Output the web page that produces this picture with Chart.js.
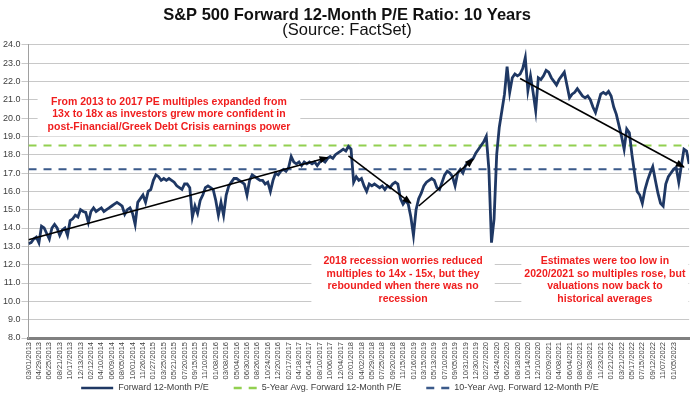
<!DOCTYPE html>
<html>
<head>
<meta charset="utf-8">
<script src="https://cdn.jsdelivr.net/npm/chart.js@4.4.0/dist/chart.umd.min.js"></script>
<style>
  html, body { margin: 0; padding: 0; background: #fff; }
</style>
</head>
<body>
<canvas id="chart" width="697" height="396"></canvas>
<script>
// x axis tick labels, one every 4 points (points are roughly 2 trading weeks apart)
var dateLabels = [
  '03/01/2013','04/29/2013','06/25/2013','08/21/2013','10/17/2013','12/13/2013',
  '02/12/2014','04/10/2014','06/09/2014','08/05/2014','10/01/2014','11/26/2014',
  '01/27/2015','03/25/2015','05/21/2015','07/20/2015','09/15/2015','11/10/2015',
  '01/08/2016','03/08/2016','05/04/2016','06/30/2016','08/26/2016','10/24/2016','12/20/2016',
  '02/17/2017','04/18/2017','06/14/2017','08/10/2017','10/06/2017','12/04/2017',
  '02/01/2018','04/02/2018','05/29/2018','07/25/2018','09/20/2018','11/15/2018',
  '01/16/2019','03/15/2019','05/13/2019','07/10/2019','09/05/2019','10/31/2019','12/30/2019',
  '02/27/2020','04/24/2020','06/22/2020','08/18/2020','10/14/2020','12/10/2020',
  '02/09/2021','04/08/2021','06/04/2021','08/02/2021','09/28/2021','11/23/2021',
  '01/21/2022','03/21/2022','05/17/2022','07/15/2022','09/12/2022','11/07/2022','01/05/2023'
];

// forward 12-month P/E
var forwardPE = [
  13.15,13.2,13.4,13.5, 13.2,14.1,14.0,13.7, 13.4,14.0,14.2,14.0, 13.6,13.9,14.0,13.6,
  14.4,14.5,14.7,14.6, 15.0,14.9,14.85,14.3, 14.9,15.1,14.9,15.0, 15.1,14.9,15.0,15.1,
  15.2,15.3,15.4,15.3, 15.2,14.75,15.0,15.1, 14.8,14.2,15.4,15.6, 15.8,15.4,16.0,16.1,
  16.6,16.9,16.8,16.6, 16.7,16.6,16.7,16.6, 16.5,16.3,16.2,16.1, 16.4,16.4,16.2,14.6,
  15.2,14.8,15.5,15.8, 16.2,16.3,16.2,16.1, 15.5,14.7,15.4,14.7, 15.8,16.3,16.5,16.7,
  16.7,16.6,16.5,16.4, 15.8,16.6,16.9,16.8, 16.7,16.6,16.6,16.4, 16.5,16.0,16.6,17.0,
  16.9,17.1,17.2,17.1, 17.3,17.9,17.6,17.5, 17.6,17.4,17.6,17.5, 17.6,17.5,17.6,17.4,
  17.6,17.7,17.6,17.8, 17.9,17.8,18.0,18.1, 18.2,18.3,18.2,18.45, 18.3,16.5,16.8,16.6,
  16.7,16.3,16.0,16.4, 16.3,16.4,16.3,16.2, 16.3,16.1,16.3,16.2, 16.4,16.5,16.4,15.6,
  15.3,15.5,15.3,14.6, 13.6,15.0,15.6,15.9, 16.3,16.5,16.6,16.7, 16.6,16.2,16.1,16.5,
  16.9,17.1,17.0,16.8, 16.3,17.0,17.2,17.0, 17.4,17.6,17.7,17.8, 18.1,18.3,18.5,18.7,
  19.0,17.2,13.2,14.5, 18.0,19.5,20.4,21.3, 22.8,21.4,22.2,22.4, 22.3,22.4,22.7,23.3,
  21.5,22.3,21.4,20.4, 22.2,22.1,22.3,22.6, 22.5,22.2,22.0,21.8, 22.1,22.3,22.5,21.8,
  21.1,21.3,21.4,21.6, 21.4,21.2,21.1,21.2, 21.0,20.6,20.3,20.8, 21.3,21.4,21.3,21.45,
  21.2,20.6,20.2,19.6, 19.0,18.3,19.4,19.2, 18.0,17.0,16.0,15.8, 15.35,16.1,16.6,17.0,
  17.35,16.6,15.9,15.35, 15.2,16.4,16.8,17.0, 17.2,17.3,16.5,17.4, 18.3,18.2,17.5
];

var avg5Year = 18.5;
var avg10Year = 17.2;

// trend arrows: [start point, start value, end point, end value]
var trendArrows = [
  [0, 13.36, 115, 17.85],
  [123, 17.93, 147, 15.36],
  [150, 15.2, 171, 17.75],
  [189, 22.16, 252, 17.33]
];

var noteLines = [
  ['From 2013 to 2017 PE multiples expanded from',
   '13x to 18x as investors grew more confident in',
   'post-Financial/Greek Debt Crisis earnings power'],
  ['2018 recession worries reduced',
   'multiples to 14x - 15x, but they',
   'rebounded when there was no',
   'recession'],
  ['Estimates were too low in',
   '2020/2021 so multiples rose, but',
   'valuations now back to',
   'historical averages']
];

var lastIndex = forwardPE.length - 1;

var datasets = [
  {
    label: 'Forward 12-Month P/E',
    data: forwardPE.map(function(v, i) { return {x: i, y: v}; }),
    borderColor: '#1f3864',
    borderWidth: 2.8,
    pointRadius: 0,
    order: 0
  },
  {
    label: '5-Year Avg. Forward 12-Month P/E',
    data: [{x: 0, y: avg5Year}, {x: lastIndex, y: avg5Year}],
    borderColor: '#92d050',
    borderWidth: 2,
    borderDash: [8, 7],
    pointRadius: 0,
    order: 1
  },
  {
    label: '10-Year Avg. Forward 12-Month P/E',
    data: [{x: 0, y: avg10Year}, {x: lastIndex, y: avg10Year}],
    borderColor: '#3b5a8a',
    borderWidth: 2,
    borderDash: [8, 7],
    pointRadius: 0,
    order: 1
  }
];
trendArrows.forEach(function(a) {
  datasets.push({
    label: 'trend',
    arrow: true,
    data: [{x: a[0], y: a[1]}, {x: a[2], y: a[3]}],
    borderColor: '#000000',
    borderWidth: 1.6,
    pointRadius: 0,
    order: -1
  });
});

// arrow heads at the end of each trend line
var arrowHeads = {
  id: 'arrowHeads',
  afterDatasetsDraw: function(chart) {
    var ctx = chart.ctx;
    chart.data.datasets.forEach(function(ds, i) {
      if (!ds.arrow) return;
      var pts = chart.getDatasetMeta(i).data;
      var a = pts[0], b = pts[1];
      var ang = Math.atan2(b.y - a.y, b.x - a.x);
      ctx.save();
      ctx.translate(b.x, b.y);
      ctx.rotate(ang);
      ctx.beginPath();
      ctx.moveTo(1, 0);
      ctx.lineTo(-8, -3.5);
      ctx.lineTo(-8, 3.5);
      ctx.closePath();
      ctx.fillStyle = ds.borderColor;
      ctx.fill();
      ctx.restore();
    });
  }
};

// red notes on white boxes that hide the grid lines
var notes = {
  id: 'notes',
  boxes: function(chart, opts) {
    var ctx = chart.ctx;
    var xs = chart.scales.x, ys = chart.scales.y;
    ctx.font = opts.font;
    return noteLines.map(function(lines, n) {
      var p = opts.places[n];
      var w = Math.max.apply(null, lines.map(function(t) { return ctx.measureText(t).width; }));
      return {lines: lines, cx: xs.getPixelForValue(p[0]), top: ys.getPixelForValue(p[1]), w: w, pad: p[2]};
    });
  },
  beforeDatasetsDraw: function(chart, args, opts) {
    var ctx = chart.ctx;
    ctx.save();
    this.boxes(chart, opts).forEach(function(b) {
      ctx.fillStyle = '#ffffff';
      ctx.fillRect(b.cx - b.w / 2 - b.pad, b.top - opts.lineHeight / 2 - 3,
                   b.w + b.pad * 2, opts.lineHeight * b.lines.length + 6);
    });
    ctx.restore();
  },
  afterDatasetsDraw: function(chart, args, opts) {
    var ctx = chart.ctx;
    ctx.save();
    var boxes = this.boxes(chart, opts);
    ctx.fillStyle = opts.color;
    ctx.textAlign = 'center';
    ctx.textBaseline = 'middle';
    boxes.forEach(function(b) {
      b.lines.forEach(function(t, j) {
        ctx.fillText(t, b.cx, b.top + j * opts.lineHeight);
      });
    });
    ctx.restore();
  }
};

// legend row under the date labels (solid / dashed line samples)
var bottomLegend = {
  id: 'bottomLegend',
  afterDraw: function(chart, args, opts) {
    var ctx = chart.ctx;
    var items = chart.data.datasets.filter(function(ds) { return !ds.arrow; });
    ctx.save();
    ctx.font = opts.font;
    var widths = items.map(function(ds) {
      var sw = ds.borderDash ? opts.dashSample : opts.solidSample;
      return sw + opts.textGap + ctx.measureText(ds.label).width;
    });
    var total = widths.reduce(function(s, w) { return s + w; }, 0) + opts.itemGap * (items.length - 1);
    var x = opts.centerX - total / 2;
    var y = opts.y;
    items.forEach(function(ds, i) {
      var sw = ds.borderDash ? opts.dashSample : opts.solidSample;
      ctx.strokeStyle = ds.borderColor;
      ctx.lineWidth = 2.5;
      ctx.setLineDash(ds.borderDash ? [8, 7] : []);
      ctx.beginPath();
      ctx.moveTo(x, y);
      ctx.lineTo(x + sw, y);
      ctx.stroke();
      ctx.setLineDash([]);
      ctx.fillStyle = opts.color;
      ctx.textBaseline = 'middle';
      ctx.textAlign = 'left';
      ctx.fillText(ds.label, x + sw + opts.textGap, y);
      x += widths[i] + opts.itemGap;
    });
    ctx.restore();
  }
};

Chart.defaults.font.family = "'Liberation Sans', Arial, sans-serif";
Chart.defaults.color = '#404040';

new Chart(document.getElementById('chart'), {
  type: 'line',
  data: {datasets: datasets},
  options: {
    responsive: false,
    animation: false,
    layout: {padding: {left: 2, right: 5, top: 0, bottom: 14}},
    scales: {
      x: {
        type: 'linear',
        min: 0,
        max: lastIndex,
        grid: {display: false, drawTicks: false},
        border: {display: true, color: '#808080', width: 3},
        ticks: {
          stepSize: 4,
          autoSkip: false,
          includeBounds: false,
          maxRotation: 90,
          minRotation: 90,
          padding: 4,
          font: {size: 7.5},
          callback: function(v) { return dateLabels[v / 4] || ''; }
        },
        afterFit: function(scale) { scale.height = 44; }
      },
      y: {
        min: 8,
        max: 24,
        grid: {color: '#c8c8c8', tickLength: 7},
        border: {color: '#a0a0a0'},
        ticks: {
          stepSize: 1,
          padding: 1,
          font: {size: 9},
          callback: function(v) { return v.toFixed(1); }
        }
      }
    },
    plugins: {
      tooltip: {enabled: false},
      legend: {display: false},
      title: {
        display: true,
        text: 'S&P 500 Forward 12-Month P/E Ratio: 10 Years',
        color: '#111111',
        font: {size: 16.5, weight: 'bold', lineHeight: 0.9},
        padding: {top: 8, bottom: 0}
      },
      subtitle: {
        display: true,
        text: '(Source: FactSet)',
        color: '#111111',
        font: {size: 16.5, lineHeight: 0.9},
        padding: {top: 0, bottom: 7}
      },
      notes: {
        font: "bold 10.5px 'Liberation Sans', Arial, sans-serif",
        color: '#f01e1e',
        lineHeight: 12.6,
        places: [[54, 20.88, 10], [144, 12.19, 12], [221.6, 12.19, 3]]
      },
      bottomLegend: {
        font: "9px 'Liberation Sans', Arial, sans-serif",
        color: '#404040',
        y: 388,
        centerX: 340,
        solidSample: 32,
        dashSample: 23,
        textGap: 5,
        itemGap: 25
      }
    }
  },
  plugins: [notes, arrowHeads, bottomLegend]
});
</script>
</body>
</html>
